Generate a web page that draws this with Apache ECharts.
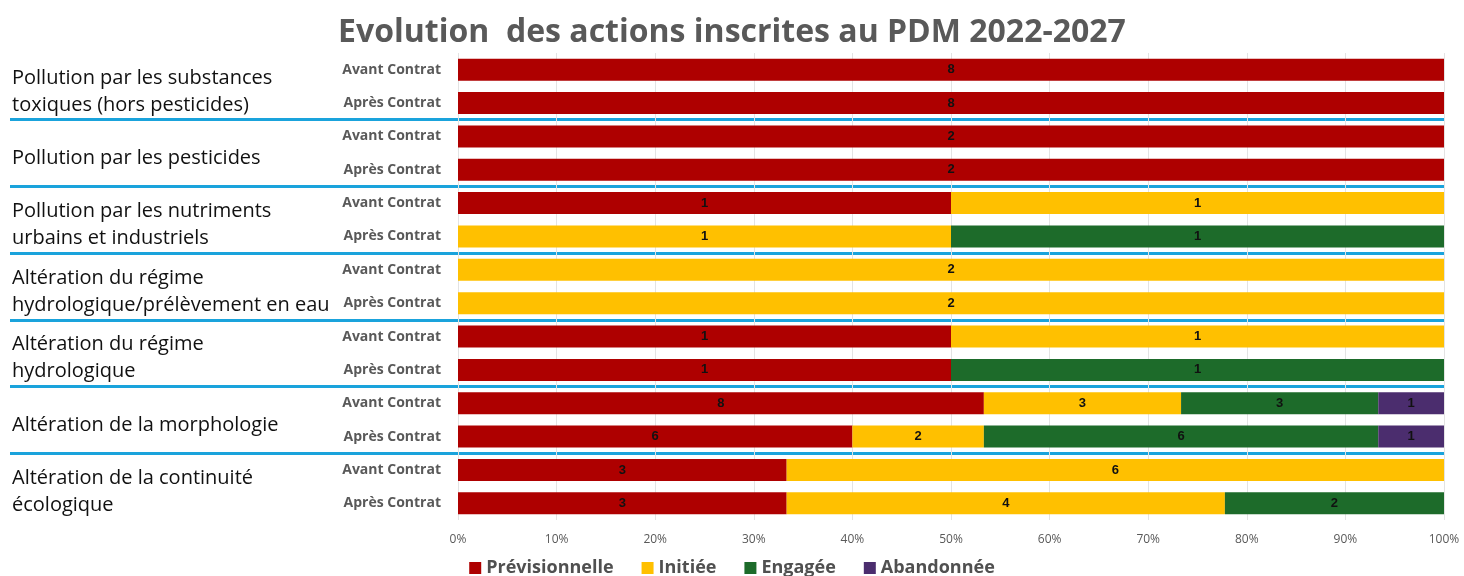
<!DOCTYPE html>
<html>
<head>
<meta charset="utf-8">
<script src="https://cdn.jsdelivr.net/npm/echarts@6/dist/echarts.min.js"></script>
<style>
  html, body { margin: 0; padding: 0; background: #fff; }
  #chart { width: 1464px; height: 576px; }
</style>
</head>
<body>
<div id="chart"></div>
<script>
const groups = [
  'Pollution par les substances\ntoxiques (hors pesticides)',
  'Pollution par les pesticides',
  'Pollution par les nutriments\nurbains et industriels',
  'Altération du régime\nhydrologique/prélèvement en eau',
  'Altération du régime\nhydrologique',
  'Altération de la morphologie',
  'Altération de la continuité\nécologique'
]
const phases = ['Avant Contrat', 'Après Contrat']
const rows = groups.flatMap(() => phases)

// counts of actions per row (top to bottom)
const prevision = [8, 8, 2, 2, 1, 0, 0, 0, 1, 1, 8, 6, 3, 3]
const initiee   = [0, 0, 0, 0, 1, 1, 2, 2, 1, 0, 3, 2, 6, 4]
const engagee   = [0, 0, 0, 0, 0, 1, 0, 0, 0, 1, 3, 6, 0, 2]
const abandon   = [0, 0, 0, 0, 0, 0, 0, 0, 0, 0, 1, 1, 0, 0]

const names = ['Prévisionnelle', 'Initiée', 'Engagée', 'Abandonnée']
const colors = ['#ae0000', '#ffc000', '#1d6b2a', '#4b2d6e']
const counts = [prevision, initiee, engagee, abandon]
const totals = rows.map((r, i) => counts.reduce((s, c) => s + c[i], 0))

const textFont = '"Open Sans", "DejaVu Sans", sans-serif'

let myChart = echarts.init(document.getElementById('chart'))
myChart.setOption({
  animation: false,
  title: {
    text: 'Evolution  des actions inscrites au PDM 2022-2027',
    left: 'center',
    top: 12,
    textStyle: { fontFamily: textFont, fontWeight: 'bold', fontSize: 32, color: '#595959' }
  },
  legend: {
    top: 554,
    left: 'center',
    icon: 'rect',
    itemWidth: 12,
    itemHeight: 12,
    itemGap: 28,
    textStyle: { fontFamily: textFont, fontWeight: 'bold', fontSize: 18, color: '#505050' },
    data: names
  },
  grid: [
    { left: 458, right: 20, top: 53, bottom: 56 },
    { left: 10, right: 20, top: 53, bottom: 56 }, // separators between groups
    { left: 10, right: 20, top: 58, bottom: 51 }  // group names, a bit lower like the original
  ],
  xAxis: [
    {
      type: 'value', min: 0, max: 100, interval: 10, gridIndex: 0,
      axisLabel: { formatter: '{value}%', color: '#595959', fontSize: 12, fontFamily: textFont, margin: 14 },
      axisLine: { show: false }, axisTick: { show: false },
      splitLine: { lineStyle: { color: '#e3e3e3' } }
    },
    { type: 'value', gridIndex: 1, show: false },
    { type: 'value', gridIndex: 2, show: false }
  ],
  yAxis: [
    {
      type: 'category', data: rows, inverse: true, gridIndex: 0,
      axisLine: { show: false }, axisTick: { show: false },
      axisLabel: { color: '#595959', fontWeight: 'bold', fontSize: 14, fontFamily: textFont, margin: 17 }
    },
    {
      type: 'category', data: groups, inverse: true, gridIndex: 1,
      axisLine: { show: false }, axisTick: { show: false }, axisLabel: { show: false },
      splitLine: {
        show: true, showMinLine: false, showMaxLine: false,
        lineStyle: { color: '#1aa3dc', width: 3 }
      }
    },
    {
      type: 'category', data: groups, inverse: true, gridIndex: 2,
      axisLine: { show: false }, axisTick: { show: false }, splitLine: { show: false },
      axisLabel: {
        inside: true, margin: 2, interval: 0, align: 'left',
        color: '#111', fontSize: 20, lineHeight: 27, fontFamily: textFont
      }
    }
  ],
  series: names.map((name, k) => ({
    name: name,
    type: 'bar',
    stack: 'total',
    xAxisIndex: 0,
    yAxisIndex: 0,
    barWidth: 22,
    itemStyle: { color: colors[k] },
    label: {
      show: true,
      position: 'inside',
      color: '#111',
      fontWeight: 'bold',
      fontSize: 13,
      fontFamily: 'Liberation Sans, Arial, sans-serif',
      formatter: p => counts[k][p.dataIndex] ? String(counts[k][p.dataIndex]) : ''
    },
    data: counts[k].map((c, i) => c / totals[i] * 100)
  }))
})
</script>
</body>
</html>
